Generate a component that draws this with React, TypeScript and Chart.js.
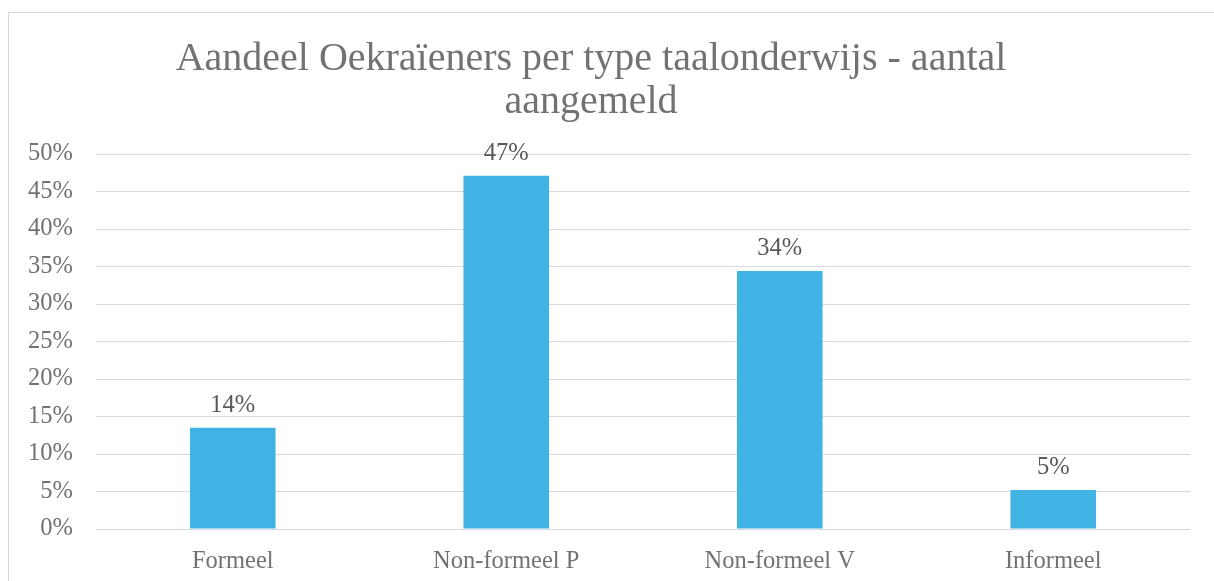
import React, { useEffect, useRef } from "react";
import { Chart, registerables } from "chart.js";

Chart.register(...registerables);

const titleLines = ["Aandeel Oekraïeners per type taalonderwijs - aantal", "aangemeld"];
const categories = ["Formeel", "Non-formeel P", "Non-formeel V", "Informeel"];
const shares = [13.5, 47.1, 34.4, 5.2];
const yMin = 0;
const yMax = 50;
const yStep = 5;

const FONT = "'Liberation Serif', 'Times New Roman', serif";
const TEXT = "#767171";
const LABEL = "#595959";
const GRID = "#d9d9d9";
const BAR = "#41B4E5";

const titlePlugin = {
  id: "customTitle",
  afterDraw(chart: any) {
    const ctx = chart.ctx;
    ctx.save();
    ctx.font = `40px ${FONT}`;
    ctx.fillStyle = TEXT;
    ctx.textAlign = "center";
    ctx.textBaseline = "alphabetic";
    const cx = 582;
    const baselines = [57, 100];
    titleLines.forEach((line, i) => ctx.fillText(line, cx, baselines[i]));
    ctx.restore();
  },
};

const dataLabelPlugin = {
  id: "dataLabels",
  afterDatasetsDraw(chart: any) {
    const ctx = chart.ctx;
    const meta = chart.getDatasetMeta(0);
    ctx.save();
    ctx.font = `24.5px ${FONT}`;
    ctx.fillStyle = LABEL;
    ctx.textAlign = "center";
    ctx.textBaseline = "alphabetic";
    meta.data.forEach((bar: any, i: number) => {
      const v = chart.data.datasets[0].data[i] as number;
      ctx.fillText(`${Math.round(v)}%`, bar.x, bar.y - 16);
    });
    ctx.restore();
  },
};

export default function App() {
  const ref = useRef<HTMLCanvasElement | null>(null);
  useEffect(() => {
    if (!ref.current) return;
    const chart = new Chart(ref.current, {
      type: "bar",
      data: {
        labels: categories,
        datasets: [
          {
            data: shares,
            backgroundColor: BAR,
            borderWidth: 0,
            categoryPercentage: 1,
            barPercentage: 0.313,
          },
        ],
      },
      options: {
        animation: false,
        responsive: false,
        maintainAspectRatio: false,
        layout: { padding: { top: 141, right: 24, left: 0, bottom: 0 } },
        plugins: {
          legend: { display: false },
          title: { display: false },
          tooltip: { enabled: false },
        },
        scales: {
          x: {
            grid: { display: false },
            border: { display: false },
            ticks: {
              color: TEXT,
              font: { family: FONT, size: 24.5 },
              padding: 10,
              maxRotation: 0,
              autoSkip: false,
            },
            afterFit: (s: any) => {
              s.height = 52;
            },
          },
          y: {
            min: yMin,
            max: yMax,
            grid: { color: GRID, lineWidth: 1, drawTicks: false },
            border: { display: false },
            ticks: {
              stepSize: yStep,
              color: TEXT,
              font: { family: FONT, size: 24.5 },
              padding: 23,
              callback: (v: any) => `${v}%`,
            },
            afterFit: (s: any) => {
              s.width = 87;
            },
          },
        },
      },
      plugins: [titlePlugin, dataLabelPlugin],
    });
    return () => chart.destroy();
  }, []);

  return (
    <div
      style={{
        position: "fixed",
        left: 0,
        top: 0,
        width: 1214,
        height: 581,
        overflow: "hidden",
        background: "#ffffff",
      }}
    >
      <div
        style={{
          position: "absolute",
          left: 8,
          top: 12,
          width: 1260,
          height: 640,
          border: `1px solid ${GRID}`,
          boxSizing: "border-box",
        }}
      >
        <canvas ref={ref} width={1205} height={568} style={{ display: "block" }} />
      </div>
    </div>
  );
}
